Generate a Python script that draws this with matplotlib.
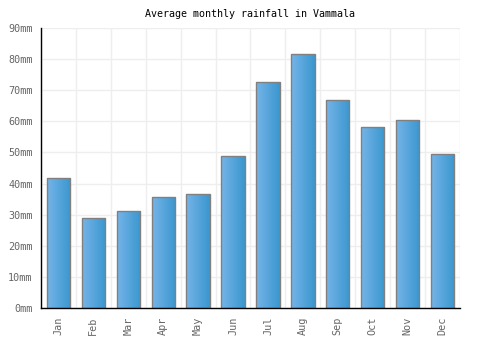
import numpy as np
import matplotlib
matplotlib.use("Agg")
import matplotlib.pyplot as plt
from matplotlib.colors import LinearSegmentedColormap

months = ["Jan", "Feb", "Mar", "Apr", "May", "Jun",
          "Jul", "Aug", "Sep", "Oct", "Nov", "Dec"]
rainfall = [41.8, 28.9, 31.2, 35.7, 36.6, 48.9,
            72.6, 81.6, 66.9, 58.2, 60.4, 49.5]
y_ticks = [0, 10, 20, 30, 40, 50, 60, 70, 80, 90]

plt.rcParams['font.family'] = ['DejaVu Sans Mono']

fig = plt.figure(figsize=(5, 3.5), dpi=100)
ax = fig.add_axes([0.082, 0.12, 0.838, 0.80])

x = np.arange(len(months))
bars = ax.bar(x, rainfall, width=0.667, color='none', edgecolor='#808080',
              linewidth=1, zorder=3)

# horizontal gradient inside each bar
cmap = LinearSegmentedColormap.from_list('rain', ['#75b4e8', '#3a97cf'])
grad = np.linspace(0, 1, 64).reshape(1, -1)
for b in bars:
    x0, w, h = b.get_x(), b.get_width(), b.get_height()
    im = ax.imshow(grad, cmap=cmap, aspect='auto', extent=[x0, x0 + w, 0, h],
                   zorder=2, interpolation='bilinear')
    im.set_clip_path(b)

ax.set_xlim(-0.5, len(months) - 0.5)
ax.set_ylim(0, 90)
ax.set_yticks(y_ticks)
ax.set_yticklabels([f"{v}mm" for v in y_ticks])
ax.set_xticks(x)
ax.set_xticklabels(months, rotation=90)
ax.set_xticks(np.arange(len(months) + 1) - 0.5, minor=True)

ax.grid(axis='y', color='#eeeeee', linewidth=1, zorder=0)
ax.grid(axis='x', which='minor', color='#eeeeee', linewidth=1, zorder=0)
ax.tick_params(axis='both', which='both', length=0, labelsize=7.3,
               labelcolor='#666666', pad=6)

for s in ['top', 'right']:
    ax.spines[s].set_visible(False)
for s in ['left', 'bottom']:
    ax.spines[s].set_color('black')
    ax.spines[s].set_linewidth(1)
    ax.spines[s].set_zorder(4)

ax.set_title("Average monthly rainfall in Vammala", fontsize=7.2, pad=8)

fig.savefig("out.png", dpi=100)
